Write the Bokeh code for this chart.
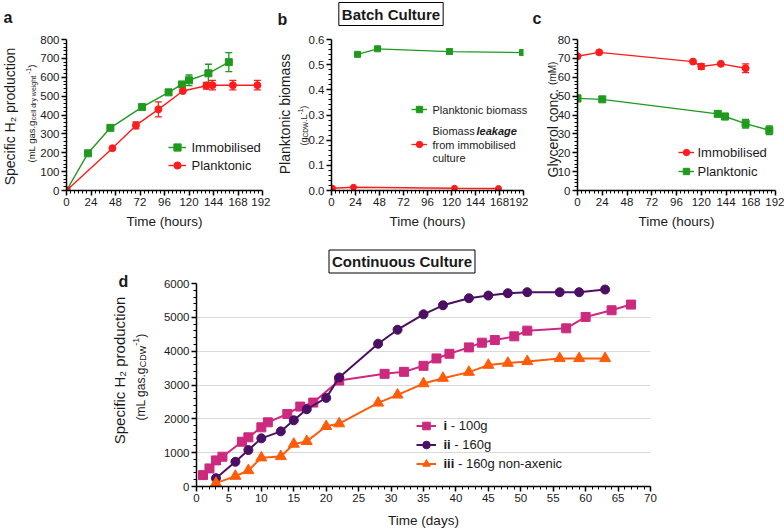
import math
from bokeh.plotting import figure
from bokeh.models import (Range1d, FixedTicker, Label, Legend, LegendItem, Whisker, TeeHead,
                          ColumnDataSource, NumeralTickFormatter)
from bokeh.layouts import column, row
from bokeh.embed import file_html
from bokeh.resources import INLINE

FONT = "Liberation Sans"
TXT = "#1a1a1a"
GREEN = "#1f9a1f"
RED = "#ff1c1c"
PINK = "#cc2a7e"
PURPLE = "#4b0f63"
ORANGE = "#ff5c0a"

# ---------------- data ----------------
hour_ticks = [0, 24, 48, 72, 96, 120, 144, 168, 192]

# panel a: specific H2 production (batch)
a_imm_t = [0, 21, 43, 74, 100, 113, 120, 139, 159]
a_imm_v = [0, 197, 332, 442, 520, 562, 584, 621, 680]
a_imm_e = [0, 0, 0, 0, 0, 10, 28, 48, 50]
a_pla_t = [0, 45, 68, 90, 114, 137, 143, 163, 187]
a_pla_v = [0, 224, 345, 430, 527, 555, 558, 558, 558]
a_pla_e = [0, 0, 18, 40, 0, 18, 25, 25, 25]

# panel b: planktonic biomass
b_pla_t = [26, 46, 118, 191]
b_pla_v = [0.541, 0.563, 0.552, 0.548]
b_leak_t = [1, 22, 123, 167]
b_leak_v = [0.009, 0.013, 0.009, 0.008]

# panel c: glycerol concentration
c_imm_t = [0, 21, 112, 120, 139, 163]
c_imm_v = [71.1, 73.2, 68.3, 65.7, 67.1, 64.8]
c_imm_e = [0, 0, 0, 1.5, 0, 2.3]
c_pla_t = [0, 24, 136, 143, 163, 186]
c_pla_v = [48.8, 48.3, 40.6, 39.2, 35.4, 31.9]
c_pla_e = [1.7, 0, 1.5, 1.7, 2.3, 2.3]

# panel d: continuous culture
d_i_t = [1, 2, 3, 4, 7, 8, 10, 11, 14, 16, 18, 22, 29, 32, 35, 37, 39, 42, 44, 46, 49, 51, 57, 60, 64, 67]
d_i_v = [336, 534, 771, 880, 1324, 1453, 1749, 1897, 2144, 2362, 2480, 3132, 3330, 3389, 3567, 3785,
         3923, 4112, 4251, 4329, 4438, 4607, 4675, 5011, 5209, 5377]
d_ii_t = [3, 6, 8, 10, 13, 15, 17, 20, 22, 28, 31, 35, 38, 42, 45, 48, 51, 56, 59, 63]
d_ii_v = [247, 731, 1077, 1423, 1630, 1957, 2283, 2619, 3221, 4219, 4634, 5089, 5356, 5565, 5644,
          5713, 5743, 5743, 5743, 5822]
d_iii_t = [3, 6, 8, 10, 13, 15, 17, 20, 22, 28, 31, 35, 38, 42, 45, 48, 51, 56, 59, 63]
d_iii_v = [99, 306, 474, 850, 889, 1255, 1334, 1779, 1858, 2470, 2708, 3043, 3202, 3380, 3588,
           3647, 3697, 3786, 3786, 3786]

# ---------------- helpers ----------------
WR = dict(zip("abcdefghijklmnopqrstuvwxyz",
              [556, 556, 500, 556, 556, 278, 556, 556, 222, 222, 500, 222, 833, 556, 556, 556, 556,
               333, 500, 278, 556, 500, 722, 500, 500, 500]))
WR.update({" ": 278, "(": 333, ")": 333, ".": 278, "-": 333, "C": 722, "D": 722, "L": 556,
           "M": 833, "W": 944, "G": 778})
for _d in "0123456789":
    WR[_d] = 556
WB = {"a": 556, "b": 611, "c": 556, "d": 611, "e": 556, "g": 611, "i": 278, "k": 556, "l": 278, " ": 278}


def tw(s, size, bold=False):
    tab = WB if bold else WR
    return sum(tab.get(ch, 556) for ch in s) / 1000.0 * size


def make_fig(w, h, bl, br, bt, bb, xr, yr):
    p = figure(width=w, height=h, x_range=xr, y_range=yr, output_backend="svg",
               toolbar_location=None, min_border_left=bl, min_border_right=br,
               min_border_top=bt, min_border_bottom=bb)
    p.title.text = ""
    p.outline_line_color = None
    p.background_fill_color = "white"
    p.border_fill_color = "white"
    p.xgrid.visible = False
    p.ygrid.visible = False
    for ax in (p.xaxis[0], p.yaxis[0]):
        ax.axis_line_width = 1.5
        ax.axis_line_color = "black"
        ax.major_tick_line_width = 1.5
        ax.major_tick_line_color = "black"
        ax.major_tick_out = 5
        ax.major_tick_in = 0
        ax.minor_tick_line_width = 1
        ax.minor_tick_line_color = "black"
        ax.minor_tick_out = 3
        ax.minor_tick_in = 0
        ax.major_label_text_font = FONT
        ax.major_label_text_font_size = "11.5px"
        ax.major_label_text_color = TXT
        ax.major_label_standoff = 2
    return p


# transparent overlay covering the whole window, used for all free texts
ov = figure(width=784, height=529, x_range=Range1d(0, 784), y_range=Range1d(529, 0),
            x_axis_type=None, y_axis_type=None, output_backend="svg", toolbar_location=None,
            min_border=0, min_border_left=0, min_border_right=0, min_border_top=0,
            min_border_bottom=0)
ov.title.text = ""
ov.outline_line_color = None
ov.background_fill_alpha = 0
ov.border_fill_alpha = 0


def text(X, Y, t, size, style="normal", angle=0.0, align="left", baseline="alphabetic", **kw):
    ov.add_layout(Label(x=X, y=Y, text=t, text_font=FONT, text_font_size=f"{size}px",
                        text_font_style=style, angle=angle, text_align=align,
                        text_baseline=baseline, text_color=kw.pop("color", TXT), **kw))


def _strip(t, size, bold):
    lead = len(t) - len(t.lstrip(" "))
    return t.lstrip(" "), tw(" " * lead, size, bold)


def vpieces(Xbase, Ystart, pieces):
    y = Ystart
    for t, size, style, dx in pieces:
        bold = "bold" in style
        s, skip = _strip(t, size, bold)
        y -= skip
        text(Xbase + dx, y, s, size, style, angle=math.pi / 2)
        y -= tw(s, size, bold)


def hpieces(Xstart, Y, pieces, baseline="middle"):
    x = Xstart
    for t, size, style in pieces:
        bold = "bold" in style
        s, skip = _strip(t, size, bold)
        x += skip
        text(x, Y, s, size, style, baseline=baseline)
        x += tw(s, size, bold)


def errbars(p, t, v, e, color, lw=1.3, head=7):
    xs, up, lo = [], [], []
    for ti, vi, ei in zip(t, v, e):
        if ei > 0:
            xs.append(ti)
            up.append(vi + ei)
            lo.append(vi - ei)
    src = ColumnDataSource(dict(x=xs, upper=up, lower=lo))
    p.add_layout(Whisker(base="x", upper="upper", lower="lower", source=src, line_color=color,
                         line_width=lw,
                         upper_head=TeeHead(size=head, line_color=color, line_width=lw),
                         lower_head=TeeHead(size=head, line_color=color, line_width=lw)))


def series(p, t, v, color, marker, size, lw):
    r1 = p.line(t, v, line_color=color, line_width=lw)
    r2 = p.scatter(t, v, marker=marker, size=size, fill_color=color, line_color=color)
    return r1, r2


def legend(p, items, loc, gw, gh, spacing):
    lg = Legend(items=[LegendItem(label=" ", renderers=list(r)) for r in items], location=loc,
                orientation="vertical", glyph_width=gw, glyph_height=gh, label_height=gh,
                spacing=spacing, padding=0, margin=0, label_standoff=0, label_width=1,
                label_text_font_size="1px", border_line_color=None, background_fill_alpha=0)
    p.add_layout(lg)


hour_minor = [h for h in range(0, 193, 4) if h % 24]

# ---------------- panel a ----------------
pa = make_fig(270, 228, 66, 8, 39, 38, Range1d(0, 192), Range1d(0, 800))
pa.xaxis.ticker = FixedTicker(ticks=hour_ticks, minor_ticks=hour_minor)
pa.yaxis.ticker = FixedTicker(ticks=list(range(0, 801, 100)),
                              minor_ticks=[v for v in range(0, 801, 20) if v % 100])
errbars(pa, a_imm_t, a_imm_v, a_imm_e, GREEN)
errbars(pa, a_pla_t, a_pla_v, a_pla_e, RED)
ga = series(pa, a_imm_t, a_imm_v, GREEN, "square", 7, 1.4)
ra = series(pa, a_pla_t, a_pla_v, RED, "circle", 7, 1.4)
legend(pa, [ga, ra], (102, 16), 18, 18, 0)
text(3, 17, "a", 16, "bold")
text(9, 116, "Specific H\u2082 production", 14, angle=math.pi / 2, align="center", baseline="middle")
vpieces(31, 162, [("(mL gas.g", 9.5, "normal", 0), ("cell dry weight", 7, "normal", 2),
                  (" -1", 7, "normal", -3.5), (")", 9.5, "normal", 0)])
text(164, 221, "Time (hours)", 13.5, align="center", baseline="middle")
text(191, 147, "Immobilised", 13, baseline="middle")
text(191, 165, "Planktonic", 13, baseline="middle")

# ---------------- panel b ----------------
pb = make_fig(258, 228, 61, 5, 39, 38, Range1d(0, 192), Range1d(0, 0.6))
pb.xaxis.ticker = FixedTicker(ticks=hour_ticks, minor_ticks=hour_minor)
pb.yaxis.ticker = FixedTicker(ticks=[i / 10 for i in range(7)],
                              minor_ticks=[i / 50 for i in range(31) if i % 5])
pb.yaxis.formatter = NumeralTickFormatter(format="0.0")
gb = series(pb, b_pla_t, b_pla_v, GREEN, "square", 6, 1.3)
rb = series(pb, b_leak_t, b_leak_v, RED, "circle", 6, 1.3)
legend(pb, [gb, rb], (80, 38), 16, 16, 19)
text(277, 19, "b", 16, "bold")
text(390.5, 13.5, "Batch Culture", 15, "bold", align="center", baseline="middle",
     border_line_color="black", border_line_width=1, background_fill_color="white", padding=3)
text(284, 113.5, "Planktonic biomass", 14, angle=math.pi / 2, align="center", baseline="middle")
vpieces(303, 145, [("(g", 9, "normal", 0), ("CDW", 6.5, "normal", 2), (".L", 9, "normal", 0),
                   ("-1", 6.5, "normal", -3.5), (")", 9, "normal", 0)])
text(432, 109, "Planktonic biomass", 11, baseline="middle")
hpieces(432, 130, [("Biomass ", 11, "normal"), ("leakage", 11, "bold italic")])
text(432, 144, "from immobilised", 11, baseline="middle")
text(432, 157, "culture", 11, baseline="middle")
text(427, 221, "Time (hours)", 13.5, align="center", baseline="middle")

# ---------------- panel c ----------------
pc = make_fig(256, 228, 49, 9, 39, 38, Range1d(0, 192), Range1d(0, 80))
pc.xaxis.ticker = FixedTicker(ticks=hour_ticks, minor_ticks=hour_minor)
pc.yaxis.ticker = FixedTicker(ticks=list(range(0, 81, 10)),
                              minor_ticks=[v for v in range(0, 81, 2) if v % 10])
errbars(pc, c_imm_t, c_imm_v, c_imm_e, RED)
errbars(pc, c_pla_t, c_pla_v, c_pla_e, GREEN)
rc = series(pc, c_imm_t, c_imm_v, RED, "circle", 7, 1.4)
gc = series(pc, c_pla_t, c_pla_v, GREEN, "square", 7, 1.4)
legend(pc, [rc, gc], (101, 10), 16, 18, 1)
text(532, 18, "c", 16, "bold")
vpieces(552, 177, [("Glycerol conc. ", 14, "normal", 0), ("(mM)", 10, "normal", 0)])
text(676, 221, "Time (hours)", 13.5, align="center", baseline="middle")
text(697, 152, "Immobilised", 13, baseline="middle")
text(697, 171, "Planktonic", 13, baseline="middle")

# ---------------- panel d ----------------
pd_ = make_fig(784, 301, 196, 134, 55, 43, Range1d(0, 70), Range1d(0, 6000))
pd_.xaxis.ticker = FixedTicker(ticks=list(range(0, 71, 5)),
                               minor_ticks=[v for v in range(0, 71) if v % 5])
pd_.yaxis.ticker = FixedTicker(ticks=list(range(0, 6001, 1000)),
                               minor_ticks=[v for v in range(0, 6001, 200) if v % 1000])
pd_.ygrid.visible = True
pd_.ygrid.grid_line_color = "#d9d9d9"
pd_.ygrid.grid_line_width = 1
ri = series(pd_, d_i_t, d_i_v, PINK, "square", 9, 2)
rii = series(pd_, d_ii_t, d_ii_v, PURPLE, "circle", 9, 2)
riii = series(pd_, d_iii_t, d_iii_v, ORANGE, "triangle", 11, 2)
legend(pd_, [ri, rii, riii], (220, 13.5), 20, 19, 0)
text(118, 281, "d", 16, "bold")
text(401.5, 261, "Continuous Culture", 15, "bold", align="center", baseline="middle",
     border_line_color="black", border_line_width=1, background_fill_color="white", padding=3)
text(119, 370, "Specific H\u2082 production", 15, angle=math.pi / 2, align="center", baseline="middle")
vpieces(140, 420, [("(mL gas.g", 12, "normal", 0), ("CDW", 9, "normal", 2),
                   ("-1", 9, "normal", -4.5), (")", 12, "normal", 0)])
for k, (num, rest) in enumerate([("i", " - 100g"), ("ii", " - 160g"), ("iii", " - 160g non-axenic")]):
    hpieces(443, 425 + 19 * k, [(num, 13, "bold"), (rest, 13, "normal")])
text(423, 520, "Time (days)", 13.5, align="center", baseline="middle")

overlay_box = row(ov)
overlay_box.margin = (-529, 0, 0, 0)
layout = column(row(pa, pb, pc), row(pd_), overlay_box)
open("out.html", "w").write(file_html(layout, INLINE))
